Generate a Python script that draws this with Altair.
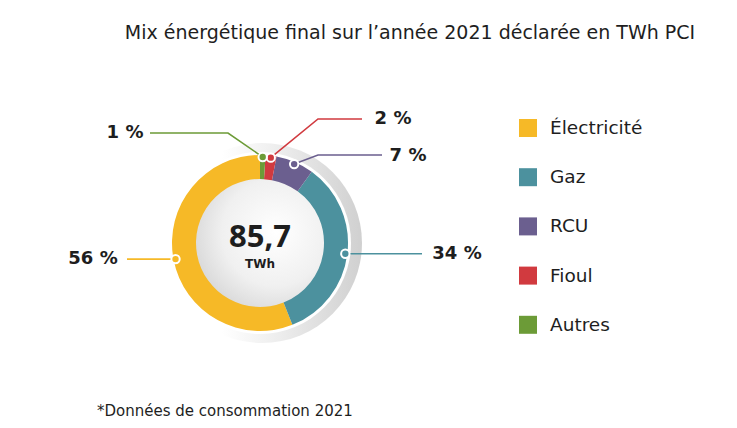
import math
import altair as alt
import pandas as pd

# ---------------- data ----------------
categories = ["Électricité", "Gaz", "RCU", "Fioul", "Autres"]
shares = [56, 34, 7, 2, 1]
colors = ["#F6B927", "#4C919E", "#6B5F8F", "#D13A3F", "#6C9B37"]
pie_order = ["Autres", "Fioul", "RCU", "Gaz", "Électricité"]  # clockwise from 12 o'clock
total_label = "85,7"
unit_label = "TWh"
title_text = "Mix énergétique final sur l\u2019année 2021 déclarée en TWh PCI"
footnote_text = "*Données de consommation 2021"

# ---------------- layout (page pixels) ----------------
PAGE_W, PAGE_H, M = 737, 428, 8
W, H = PAGE_W - 2 * M, PAGE_H - 2 * M
CX, CY = 260, 243
R_OUT, R_IN, R_MARK = 88, 64, 86
SHADOW = dict(cx=262, cy=243, r=100)
GAP_R = 91

# leader-line elbows / ends and label centres (page pixels)
leader = {
    "Autres": dict(elbow=(228, 133), end=(150, 133), text_x=125, text_dy=0),
    "Fioul": dict(elbow=(318, 119), end=(362, 119), text_x=393, text_dy=0),
    "RCU": dict(elbow=(318, 155), end=(382, 155), text_x=408, text_dy=1),
    "Gaz": dict(elbow=None, end_x=422, text_x=457, text_dy=0),
    "Électricité": dict(elbow=None, end_x=127, text_x=93, text_dy=0),
}
LEG_X, LEG_LABEL_X, LEG_Y0, LEG_DY = 528, 550, 128, 49.2


def vx(px):
    return px - M


def vy(py):
    return py - M


color_scale = alt.Scale(domain=categories, range=colors)
share_of = dict(zip(categories, shares))
tot = sum(shares)

# pie table
pie_df = pd.DataFrame({
    "cat": categories,
    "share": shares,
    "ord": [pie_order.index(c) for c in categories],
})

# marker positions from the data (mid-angle of each slice)
markers, lines, labels = [], [], []
cum = 0
mid = {}
for c in pie_order:
    a0 = cum / tot * 2 * math.pi
    cum += share_of[c]
    a1 = cum / tot * 2 * math.pi
    mid[c] = (a0 + a1) / 2
for c in categories:
    a = mid[c]
    mx = CX + R_MARK * math.sin(a)
    my = CY - R_MARK * math.cos(a)
    markers.append({"cat": c, "x": vx(mx), "y": vy(my)})
    L = leader[c]
    if L["elbow"] is not None:
        pts = [(mx, my), L["elbow"], L["end"]]
        ty = L["end"][1]
    else:
        pts = [(mx, my), (L["end_x"], my)]
        ty = my
    for i, (px, py) in enumerate(pts):
        lines.append({"cat": c, "seq": i, "x": vx(px), "y": vy(py)})
    labels.append({"cat": c, "txt": f"{share_of[c]} %", "x": vx(L["text_x"]), "y": vy(ty + L["text_dy"])})

markers_df = pd.DataFrame(markers)
lines_df = pd.DataFrame(lines)
labels_df = pd.DataFrame(labels)
legend_df = pd.DataFrame({
    "cat": categories,
    "x": [vx(LEG_X)] * len(categories),
    "lx": [vx(LEG_LABEL_X)] * len(categories),
    "y": [vy(LEG_Y0 + i * LEG_DY) for i in range(len(categories))],
})

X = alt.X("x:Q", scale=alt.Scale(domain=[0, W], nice=False, zero=False), axis=None)
Y = alt.Y("y:Q", scale=alt.Scale(domain=[0, H], nice=False, zero=False, reverse=True), axis=None)
COL = alt.Color("cat:N", scale=color_scale, legend=None)

one = pd.DataFrame({"a": [0]})
FONT = "DejaVu Sans"

shadow = alt.Chart(one).mark_arc(
    outerRadius=SHADOW["r"], innerRadius=0,
    color=alt.LinearGradient(
        gradient="linear", x1=0, y1=0, x2=1, y2=0,
        stops=[alt.GradientStop(offset=0, color="#ffffff"),
               alt.GradientStop(offset=0.3, color="#ffffff"),
               alt.GradientStop(offset=0.6, color="#ececec"),
               alt.GradientStop(offset=1, color="#d0d0d0")],
    ),
).encode(x=alt.value(vx(SHADOW["cx"])), y=alt.value(vy(SHADOW["cy"])),
         theta=alt.value(0), theta2=alt.value(2 * math.pi))

gap = alt.Chart(one).mark_arc(outerRadius=GAP_R, innerRadius=0, color="#ffffff").encode(
    x=alt.value(vx(CX)), y=alt.value(vy(CY)),
    theta=alt.value(0), theta2=alt.value(2 * math.pi))

inner = alt.Chart(one).mark_arc(
    outerRadius=R_IN + 1, innerRadius=0,
    color=alt.RadialGradient(
        gradient="radial", x1=0.62, y1=0.42, r1=0, x2=0.62, y2=0.42, r2=0.75,
        stops=[alt.GradientStop(offset=0, color="#ffffff"),
               alt.GradientStop(offset=0.55, color="#f0f0f0"),
               alt.GradientStop(offset=1, color="#cfcfcf")],
    ),
).encode(x=alt.value(vx(CX)), y=alt.value(vy(CY)),
         theta=alt.value(0), theta2=alt.value(2 * math.pi))

ring = alt.Chart(pie_df).mark_arc(outerRadius=R_OUT, innerRadius=R_IN, stroke=None).encode(
    x=alt.value(vx(CX)), y=alt.value(vy(CY)),
    theta=alt.Theta("share:Q", stack=True),
    color=COL,
    order=alt.Order("ord:Q"),
)

leader_lines = alt.Chart(lines_df).mark_line(strokeWidth=1.6).encode(
    x=X, y=Y, color=COL, detail="cat:N", order=alt.Order("seq:Q"))

marker_pts = alt.Chart(markers_df).mark_circle(size=70, opacity=1, stroke="white", strokeWidth=2).encode(
    x=X, y=Y, color=COL)

pct_labels = alt.Chart(labels_df).mark_text(
    font=FONT, fontSize=18, fontWeight="bold", color="#1e1e1e", align="center", baseline="middle"
).encode(x=X, y=Y, text="txt:N")

center_df = pd.DataFrame({"x": [vx(CX)], "y": [vy(CY - 5)], "t": [total_label]})
center_num = alt.Chart(center_df).mark_text(
    font="Open Sans", fontSize=31, fontWeight="bold", color="#1e1e1e", align="center", baseline="middle"
).encode(x=X, y=Y, text="t:N")
unit_df = pd.DataFrame({"x": [vx(CX)], "y": [vy(CY + 21)], "t": [unit_label]})
center_unit = alt.Chart(unit_df).mark_text(
    font=FONT, fontSize=12, fontWeight="bold", color="#1e1e1e", align="center", baseline="middle"
).encode(x=X, y=Y, text="t:N")

legend_sq = alt.Chart(legend_df).mark_square(size=324, opacity=1).encode(x=X, y=Y, color=COL)
legend_txt = alt.Chart(legend_df).mark_text(
    font=FONT, fontSize=18.5, color="#1e1e1e", align="left", baseline="middle"
).encode(x=alt.X("lx:Q", scale=alt.Scale(domain=[0, W], nice=False, zero=False), axis=None), y=Y, text="cat:N")

title_df = pd.DataFrame({"x": [vx(410)], "y": [vy(33)], "t": [title_text]})
title = alt.Chart(title_df).mark_text(
    font=FONT, fontSize=19, color="#1e1e1e", align="center", baseline="middle"
).encode(x=X, y=Y, text="t:N")

foot_df = pd.DataFrame({"x": [vx(97)], "y": [vy(411)], "t": [footnote_text]})
foot = alt.Chart(foot_df).mark_text(
    font=FONT, fontSize=15, color="#1e1e1e", align="left", baseline="middle"
).encode(x=X, y=Y, text="t:N")

chart = alt.layer(
    shadow, gap, inner, ring, leader_lines, marker_pts, pct_labels,
    center_num, center_unit, legend_sq, legend_txt, title, foot,
).properties(
    width=W, height=H, padding=0, autosize=alt.AutoSizeParams(type="none"),
    background="white",
).configure_view(stroke=None)

chart.save("out.html", embed_options={"renderer": "svg", "actions": False})
